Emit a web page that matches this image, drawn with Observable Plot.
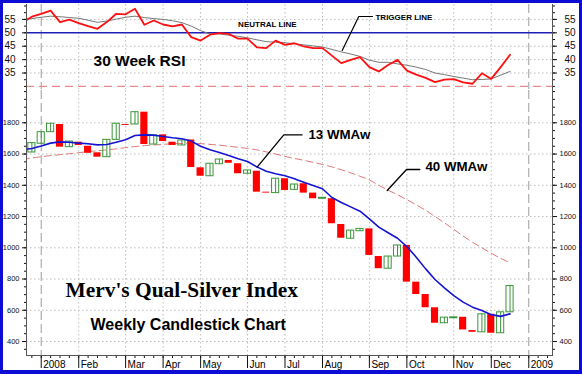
<!DOCTYPE html>
<html><head><meta charset="utf-8">
<script src="https://cdn.jsdelivr.net/npm/d3@7"></script>
<script src="https://cdn.jsdelivr.net/npm/@observablehq/plot@0.6"></script>
<style>
html,body{margin:0;padding:0;background:#fff;}
#wrap{position:relative;width:582px;height:374px;overflow:hidden;background:#fff;}
#wrap svg{position:absolute;left:0;}
#frame{position:absolute;left:0;top:0;width:582px;height:374px;box-sizing:border-box;border:3px solid #0c0cd4;border-bottom-width:4px;pointer-events:none;}
</style></head><body><div id="wrap"><div id="frame"></div></div>
<script>
// ---- data (week index 0 = first weekly bar of 2008) ----
const weeks = d3.range(-1, 51);
const opens = [1610,1666,1740,1789,1644,1676,1650,1608,1580,1691,1789,1789,1868,1661,1723,1676,1655,1690,1512,1458,1535,1559,1538,1474,1490,1356,1350,1442,1371,1410,1350,1314,1314,1149,1058,1106,1121,944,866,944,1015,780,701,616,517,549,555,470,459,574,453,587];
const closes = [1670,1740,1794,1644,1680,1655,1605,1580,1691,1794,1783,1868,1661,1719,1680,1655,1687,1514,1458,1538,1565,1541,1474,1495,1356,1350,1442,1367,1405,1350,1314,1320,1154,1061,1110,1121,951,866,944,1015,780,701,616,517,553,555,474,459,574,453,587,755];

const lineWeeks = d3.range(-2, 51);
const wma13 = [1628,1636,1652,1670,1678,1676,1670,1666,1659,1661,
  1676,1691,1719,1723,1721,1712,1704,1698,1683,1650,
  1627,1610,1591,1570,1552,1518,1490,1474,1461,1442,
  1420,1399,1378,1322,1290,1262,1234,1185,1132,1096,
  1061,1008,940,865,797,744,694,652,620,598,
  572,561,577];
const wma40 = [1566,1575,1583,1590,1596,1602,1609,1615,1621,1627,
  1633,1641,1648,1654,1658,1662,1666,1668,1668,1667,
  1662,1657,1650,1643,1636,1627,1614,1600,1585,1572,
  1560,1547,1533,1518,1500,1480,1458,1435,1400,1368,
  1340,1308,1275,1240,1200,1160,1118,1075,1035,1000,
  965,932,904];
const rsi = [53.8,56.0,57.1,58.3,54.0,54.9,53.6,52.5,51.5,54.0,
  57.1,56.9,59.0,53.0,54.6,53.1,52.4,53.1,48.4,47.1,
  49.3,49.9,49.6,47.8,47.8,44.6,44.3,47.1,45.5,46.1,
  44.9,44.3,44.3,41.5,38.7,39.9,40.9,37.2,35.6,38.0,
  39.9,35.9,34.4,33.2,31.6,32.5,32.7,31.5,31.0,34.9,
  32.8,37.2,41.8];
const trigger = [55.0,55.3,55.8,56.2,56.0,55.7,55.4,54.7,53.9,54.4,
  55.1,55.8,56.2,55.7,55.3,55.0,54.5,53.8,52.5,50.8,
  49.6,49.6,49.1,48.7,48.1,47.4,46.7,46.5,46.3,45.9,
  45.5,45.1,44.7,43.8,42.9,42.1,41.2,39.8,39.0,39.0,
  38.4,37.9,37.2,36.3,35.0,34.4,33.7,33.1,32.5,32.6,
  32.8,34.2,35.6];

const monthTickWeeks = [0,4,9,13,17,22,26,30,35,39,44,48,52];
const monthTickLabels = ["2008","Feb","Mar","Apr","May","Jun","Jul","Aug","Sep","Oct","Nov","Dec","2009"];
const priceTicks = [400,600,800,1000,1200,1400,1600,1800];
const rsiTicks = [35,40,45,50,55];
const neutralLevel = 50;
const oversoldLevel = 30;
const yearWeeks = [0, 52];

// annotation anchors (data space)
const annoRsiTitle = [{w:5.58, v:37.54, text:"30 Week RSI"}];
const annoNeutral = [{w:21.0, v:52.09, text:"NEUTRAL LINE"}];
const annoTrigger = [{w:35.65, v:54.85, text:"TRIGGER LINE"}];
const leaderTrigger = [{w:35.33,v:56.08},{w:33.87,v:56.08},{w:32.1,v:43.4}];
const anno13 = [{w:28.5, v:1697.6, text:"13 WMAw"}];
const anno40 = [{w:40.98, v:1494.7, text:"40 WMAw"}];
const leader13 = [{w:27.83,v:1723},{w:25.87,v:1723},{w:23.03,v:1516}];
const leader40 = [{w:40.38,v:1501},{w:38.96,v:1501},{w:36.9,v:1367}];
const annoTitle = [{w:2.59, v:684.9, text:"Merv's Qual-Silver Index"}];
const annoSub = [{w:5.26, v:475, text:"Weekly Candlestick Chart"}];

// ---- build ----
const sans = "Arial, 'Liberation Sans', Helvetica, sans-serif";
const serif = "'Times New Roman', 'Liberation Serif', Times, serif";
const xDomain = [-1.57, 54.53];
const rows = weeks.map((w, i) => ({w, open: opens[i], close: closes[i]}));
const ups = rows.filter(d => d.close >= d.open);
const downs = rows.filter(d => d.close < d.open);
const lineRows = vals => lineWeeks.map((w, i) => ({w, v: vals[i]}));
const monthRows = monthTickWeeks.map((w, i) => ({w, label: monthTickLabels[i]}));
const gridMonths = monthTickWeeks.filter(w => !yearWeeks.includes(w));
const grid = {stroke:"#bcbcbc", strokeOpacity:1, strokeDasharray:"1.5,2.5", strokeWidth:1};
const yearRule = {stroke:"#9c9c9c", strokeDasharray:"9,4", strokeWidth:1};
const green = "#3a963a";
const hw = 0.38;
const plain = d => String(d);

const topChart = Plot.plot({
  width: 582, height: 90, marginLeft: 26, marginRight: 30, marginTop: 4, marginBottom: 1,
  style: {fontFamily: sans, background: "transparent", color: "#111", overflow: "visible"},
  x: {domain: xDomain, axis: null, label: null},
  y: {domain: [28.85, 60.56], label: null},
  marks: [
    Plot.gridY(rsiTicks.filter(t => t !== neutralLevel), grid),
    Plot.gridX(gridMonths, grid),
    Plot.ruleX(yearWeeks, yearRule),
    Plot.ruleY([oversoldLevel], {stroke:"#e68a8a", strokeDasharray:"8,5", strokeWidth:1.2}),
    Plot.ruleY([neutralLevel], {stroke:"#1f1fb8", strokeWidth:1.6}),
    Plot.line(lineRows(trigger), {x:"w", y:"v", stroke:"#777", strokeWidth:1, clip:true}),
    Plot.line(lineRows(rsi), {x:"w", y:"v", stroke:"#ff1010", strokeWidth:1.8, clip:true}),
    Plot.line(leaderTrigger, {x:"w", y:"v", stroke:"#000", strokeWidth:1.2}),
    Plot.text(annoRsiTitle, {x:"w", y:"v", text:"text", textAnchor:"start", lineAnchor:"bottom", fontSize:15.5, fontWeight:"bold", fill:"#000"}),
    Plot.text(annoNeutral, {x:"w", y:"v", text:"text", textAnchor:"start", lineAnchor:"bottom", fontSize:8, fontWeight:"bold", fill:"#000"}),
    Plot.text(annoTrigger, {x:"w", y:"v", text:"text", textAnchor:"start", lineAnchor:"bottom", fontSize:8, fontWeight:"bold", fill:"#000"}),
    Plot.axisY(rsiTicks, {anchor:"left", tickSize:4, tickPadding:7, fontSize:10, tickFormat:plain}),
    Plot.axisY(d3.range(30, 60.1, 2.5), {anchor:"left", tickSize:2, tickFormat:() => ""}),
    Plot.axisY(rsiTicks, {anchor:"right", tickSize:4, tickPadding:8, fontSize:10, tickFormat:plain}),
    Plot.axisY(d3.range(30, 60.1, 2.5), {anchor:"right", tickSize:2, tickFormat:() => ""}),
    Plot.frame({anchor:"left", stroke:"#555"}),
    Plot.frame({anchor:"right", stroke:"#555"})
  ]
});
topChart.style.top = "0px";

const bottomChart = Plot.plot({
  width: 582, height: 284, marginLeft: 26, marginRight: 30, marginTop: 0, marginBottom: 19,
  style: {fontFamily: sans, background: "transparent", color: "#111", overflow: "visible"},
  x: {domain: xDomain, label: null},
  y: {domain: [310.5, 2006.8], label: null},
  marks: [
    Plot.gridY(priceTicks, grid),
    Plot.gridX(gridMonths, grid),
    Plot.ruleX(yearWeeks, yearRule),
    Plot.line(lineRows(wma40), {x:"w", y:"v", stroke:"#e07a7a", strokeDasharray:"7,4", strokeWidth:1, clip:true}),
    Plot.rect(downs, {x1: d => d.w - hw, x2: d => d.w + hw, y1:"open", y2:"close", fill:"#ff0000", clip:true}),
    Plot.ruleX(ups, {x:"w", y1:"open", y2:"close", stroke:green, strokeWidth:1, clip:true}),
    Plot.rect(ups, {x1: d => d.w - hw, x2: d => d.w + hw, y1:"open", y2:"close", fill:"none", stroke:green, strokeWidth:1, clip:true}),
    Plot.line(lineRows(wma13), {x:"w", y:"v", stroke:"#1414d2", strokeWidth:1.6, clip:true}),
    Plot.line(leader13, {x:"w", y:"v", stroke:"#000", strokeWidth:1.3}),
    Plot.line(leader40, {x:"w", y:"v", stroke:"#000", strokeWidth:1.3}),
    Plot.text(anno13, {x:"w", y:"v", text:"text", textAnchor:"start", lineAnchor:"bottom", fontSize:13.3, fontWeight:"bold", fill:"#000"}),
    Plot.text(anno40, {x:"w", y:"v", text:"text", textAnchor:"start", lineAnchor:"bottom", fontSize:13.3, fontWeight:"bold", fill:"#000"}),
    Plot.text(annoTitle, {x:"w", y:"v", text:"text", textAnchor:"start", lineAnchor:"bottom", fontSize:21.4, fontWeight:"bold", fontFamily:serif, fill:"#000"}),
    Plot.text(annoSub, {x:"w", y:"v", text:"text", textAnchor:"start", lineAnchor:"bottom", fontSize:16, fontWeight:"bold", fill:"#000"}),
    Plot.axisY(priceTicks, {anchor:"left", tickSize:4, tickPadding:3, fontSize:7.5, tickFormat:plain}),
    Plot.axisY(d3.range(350, 2001, 50), {anchor:"left", tickSize:2, tickFormat:() => ""}),
    Plot.axisY(priceTicks, {anchor:"right", tickSize:4, tickPadding:3, fontSize:7.5, tickFormat:plain}),
    Plot.axisY(d3.range(350, 2001, 50), {anchor:"right", tickSize:2, tickFormat:() => ""}),
    Plot.axisX(d3.range(-1, 55), {anchor:"bottom", tickSize:3, tickFormat:() => ""}),
    Plot.axisX(monthTickWeeks, {anchor:"bottom", tickSize:13, tickFormat:() => ""}),
    Plot.text(monthRows, {x:"w", text:"label", frameAnchor:"bottom", textAnchor:"start", lineAnchor:"top", dx:2, dy:5, fontSize:10, fill:"#000"}),
    Plot.frame({anchor:"left", stroke:"#555"}),
    Plot.frame({anchor:"right", stroke:"#555"}),
    Plot.frame({anchor:"bottom", stroke:"#555"})
  ]
});
bottomChart.style.top = "90px";

const wrap = document.getElementById("wrap");
wrap.insertBefore(bottomChart, wrap.firstChild);
wrap.insertBefore(topChart, wrap.firstChild);
</script>
</body></html>
